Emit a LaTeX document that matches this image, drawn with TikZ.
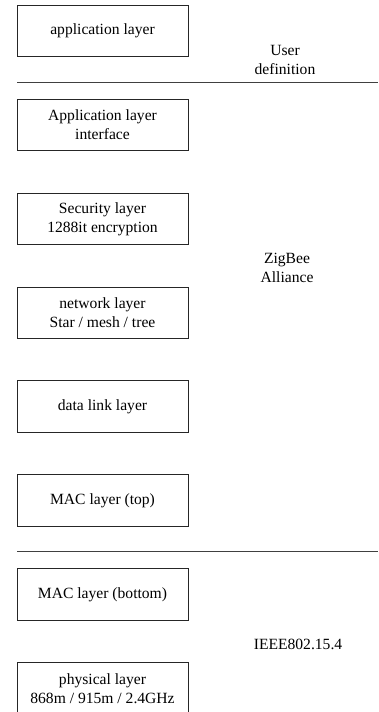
\documentclass[tikz,border=0pt]{standalone}
\usepackage{fontspec}
\setmainfont{Liberation Serif}
\begin{document}
\begin{tikzpicture}[x=1pt,y=-1pt,
  layerbox/.style={draw=black!85, line width=0.9pt, minimum width=171pt, minimum height=51.5pt,
    inner sep=0pt, align=center, font=\fontsize{15.6}{19}\selectfont},
  grouplabel/.style={align=center, inner sep=0pt, font=\fontsize{15.6}{19}\selectfont},
  divider/.style={draw=black!75, line width=1pt}]
\useasboundingbox (0,0) rectangle (378,712);
\clip (0,0) rectangle (378,712);
% protocol stack layers
\node[layerbox] (app)  at (102.5, 31.05) {application layer};
\node[layerbox] (api)  at (102.5,124.95) {Application layer\\interface};
\node[layerbox] (sec)  at (102.5,218.85) {Security layer\\1288it encryption};
\node[layerbox] (net)  at (102.5,312.75) {network layer\\Star / mesh / tree};
\node[layerbox] (dll)  at (102.5,406.65) {data link layer};
\node[layerbox] (mact) at (102.5,500.55) {MAC layer (top)};
\node[layerbox] (macb) at (102.5,594.45) {MAC layer (bottom)};
\node[layerbox] (phy)  at (102.5,688.35) {physical layer\\868m / 915m / 2.4GHz};
% group boundaries
\coordinate (d1l) at (17,82.7);
\coordinate (d1r) at (378,82.7);
\coordinate (d2l) at (17,551.7);
\coordinate (d2r) at (378,551.7);
\draw[divider] (d1l) -- (d1r);
\draw[divider] (d2l) -- (d2r);
% group names
\node[grouplabel] (user)   at (285,59.5) {User\\definition};
\node[grouplabel] (zigbee) at (287,267.5) {ZigBee\\Alliance};
\node[grouplabel] (ieee)   at (298,644) {IEEE802.15.4};
\end{tikzpicture}
\end{document}
